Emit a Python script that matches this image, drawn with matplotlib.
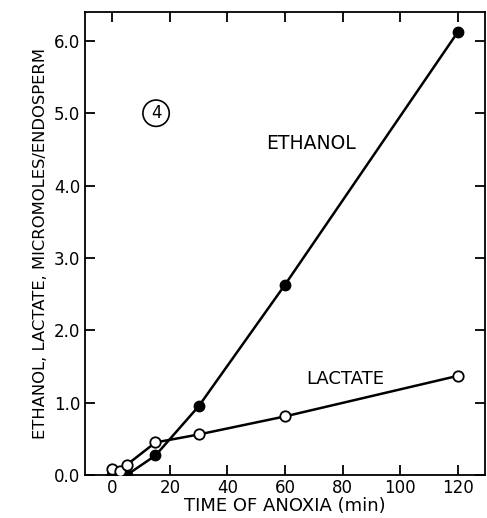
import matplotlib
matplotlib.use("Agg")
import matplotlib.pyplot as plt

ethanol_t = [0, 5, 15, 30, 60, 120]
ethanol_v = [0.0, 0.0, 0.27, 0.95, 2.63, 6.12]
lactate_t = [0, 2.5, 5, 15, 30, 60, 120]
lactate_v = [0.08, 0.05, 0.14, 0.45, 0.56, 0.81, 1.37]
xticks = [0, 20, 40, 60, 80, 100, 120]
yticks = [0.0, 1.0, 2.0, 3.0, 4.0, 5.0, 6.0]

plt.rcParams['font.family'] = ['DejaVu Sans']
fig = plt.figure(figsize=(4.87, 5.18), dpi=100)
ax = fig.add_axes([0.1745, 0.083, 0.8215, 0.894])

ax.plot(ethanol_t, ethanol_v, '-o', color='black', lw=1.8, ms=7.5,
        mfc='black', mec='black', zorder=2)
ax.plot(lactate_t, lactate_v, '-o', color='black', lw=1.8, ms=7.5,
        mfc='white', mec='black', mew=1.3, zorder=3)

ax.set_xlim(-9.5, 129.5)
ax.set_ylim(0, 6.4)
ax.set_xticks(xticks)
ax.set_xticklabels([str(t) for t in xticks])
ax.set_yticks(yticks)
ax.set_yticklabels([f"{v:.1f}" for v in yticks])
ax.tick_params(direction='in', length=7, width=1.3, labelsize=12,
               top=True, right=True)
ax.tick_params(axis='x', pad=3)
for s in ax.spines.values():
    s.set_linewidth(1.3)

ax.set_xlabel("TIME OF ANOXIA (min)", fontsize=13, labelpad=0)
ax.set_ylabel("ETHANOL, LACTATE, MICROMOLES/ENDOSPERM", fontsize=11.8, labelpad=4)

ax.text(69.2, 4.58, "ETHANOL", fontsize=13.5, ha='center', va='center')
ax.text(81, 1.33, "LACTATE", fontsize=13, ha='center', va='center')
ax.text(15.2, 5.0, "4", fontsize=12, ha='center', va='center',
        bbox=dict(boxstyle='circle,pad=0.25', fc='white', ec='black', lw=1.2))

fig.savefig("out.png", dpi=100)
